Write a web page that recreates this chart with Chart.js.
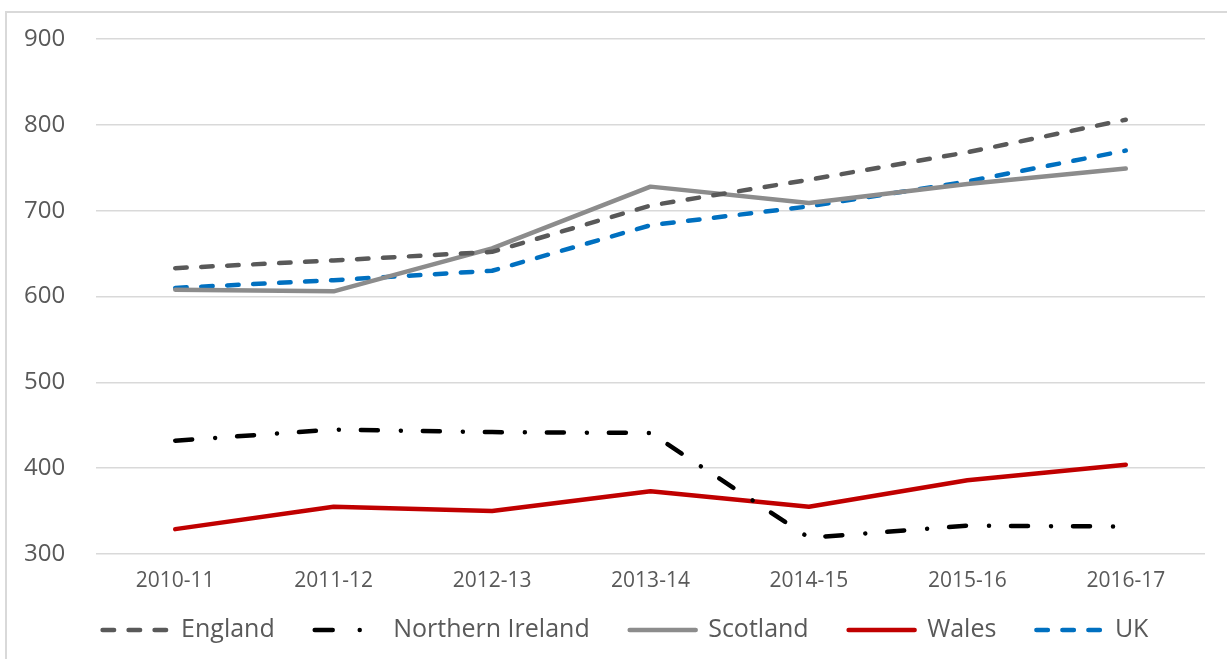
<!DOCTYPE html>
<html>
<head>
<meta charset="utf-8">
<script src="https://cdn.jsdelivr.net/npm/chart.js@4"></script>
<style>
  html, body { margin: 0; padding: 0; background: #ffffff; }
  #wrap { position: relative; width: 1227px; height: 659px; }
  canvas { display: block; }
</style>
</head>
<body>
<div id="wrap"><canvas id="c" width="1227" height="659"></canvas></div>
<script>
const categories = ['2010-11', '2011-12', '2012-13', '2013-14', '2014-15', '2015-16', '2016-17'];
const england = [633, 642, 652, 706, 736, 768, 806];
const northernIreland = [432, 445, 442, 441, 319, 333, 332];
const scotland = [608, 606, 656, 728, 709, 731, 749];
const wales = [329, 355, 350, 373, 355, 386, 404];
const uk = [610, 619, 630, 683, 705, 734, 770];
const yTicks = [300, 400, 500, 600, 700, 800, 900];

const FONT = "'Open Sans', 'Noto Sans', sans-serif";
const TEXT = '#595959';

const borderPlugin = {
  id: 'outerBorder',
  beforeDraw(chart) {
    const ctx = chart.ctx;
    ctx.save();
    ctx.strokeStyle = '#d9d9d9';
    ctx.lineWidth = 2;
    ctx.beginPath();
    ctx.moveTo(6, 700);
    ctx.lineTo(6, 12);
    ctx.lineTo(1300, 12);
    ctx.stroke();
    ctx.restore();
  }
};

const layoutTweak = {
  id: 'layoutTweak',
  afterLayout(chart) {
    const lg = chart.legend;
    if (lg) { lg.left += 11; lg.right += 11; lg.top -= 2.5; lg.bottom -= 2.5; }
    const x = chart.scales.x;
    if (x) { x.bottom = x.top + 50; }
  }
};

const lw = 4.5;
const legendDash = {
  'England': [11.5, 14.5],
  'Northern Ireland': [18, 27, 0.01, 60],
  'UK': [11.5, 14.5]
};

new Chart(document.getElementById('c'), {
  type: 'line',
  data: {
    labels: categories,
    datasets: [
      { label: 'England', data: england, borderColor: '#595959', backgroundColor: '#595959', borderDash: [11.5, 14.5] },
      { label: 'Northern Ireland', data: northernIreland, borderColor: '#000000', backgroundColor: '#000000', borderDash: [17, 23, 0.01, 22] },
      { label: 'Scotland', data: scotland, borderColor: '#8c8c8c', backgroundColor: '#8c8c8c' },
      { label: 'Wales', data: wales, borderColor: '#c00000', backgroundColor: '#c00000' },
      { label: 'UK', data: uk, borderColor: '#0070c0', backgroundColor: '#0070c0', borderDash: [11.5, 14.5] }
    ].map(d => Object.assign({ borderWidth: lw, pointRadius: 0, pointHoverRadius: 0, tension: 0, borderCapStyle: 'round', borderJoinStyle: 'round', fill: false }, d))
  },
  options: {
    responsive: false,
    animation: false,
    devicePixelRatio: 1,
    layout: { padding: { left: 24, right: 22, top: 39, bottom: 4 } },
    plugins: {
      tooltip: { enabled: false },
      legend: {
        position: 'bottom',
        labels: {
          usePointStyle: true,
          pointStyle: 'line',
          pointStyleWidth: 66,
          boxWidth: 66,
          padding: 40,
          color: TEXT,
          font: { family: FONT, size: 25 },
          generateLabels(chart) {
            const items = Chart.defaults.plugins.legend.labels.generateLabels(chart);
            items.forEach(it => {
              const ds = chart.data.datasets[it.datasetIndex];
              it.pointStyle = 'line';
              it.lineDash = legendDash[it.text] || [];
              it.lineDashOffset = 0;
              it.lineWidth = lw;
              it.lineCap = 'round';
              it.strokeStyle = ds.borderColor;
              it.fillStyle = ds.borderColor;
            });
            return items;
          }
        }
      }
    },
    scales: {
      x: {
        offset: true,
        grid: { display: false, drawTicks: false },
        border: { display: false },
        ticks: { color: TEXT, font: { family: FONT, size: 21 }, padding: 14, maxRotation: 0 },
        afterFit(scale) { scale.height = 26; }
      },
      y: {
        min: 300,
        max: 900,
        afterBuildTicks(scale) { scale.ticks = yTicks.map(v => ({ value: v })); },
        grid: { color: '#d9d9d9', lineWidth: 1.5, drawTicks: false },
        border: { display: false },
        ticks: { color: TEXT, font: { family: FONT, size: 24 }, padding: 5, crossAlign: 'far' },
        afterFit(scale) { scale.width = 72; }
      }
    }
  },
  plugins: [borderPlugin, layoutTweak]
});
</script>
</body>
</html>
